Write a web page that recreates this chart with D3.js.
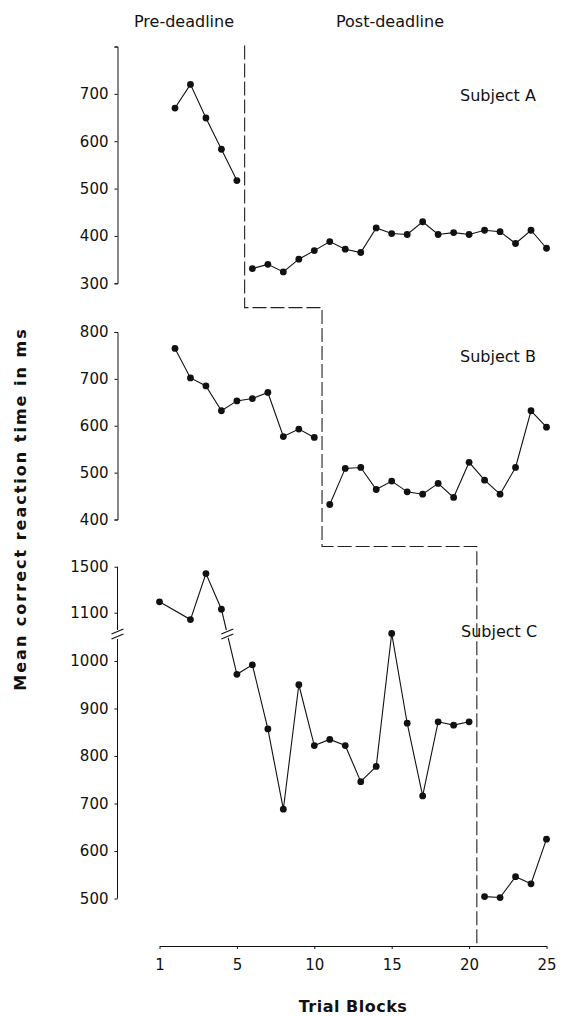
<!DOCTYPE html>
<html>
<head>
<meta charset="utf-8">
<script src="https://cdn.jsdelivr.net/npm/d3@7"></script>
<style>
	body { margin: 0; background: #fff; }
	svg { display: block; font-family: "DejaVu Sans", sans-serif; }
	.axis path, .axis line { stroke: #111; stroke-width: 1; fill: none; }
	.axis text { font-size: 15px; fill: #111; font-family: "DejaVu Sans", sans-serif; }
	.series { fill: none; stroke: #111; stroke-width: 1.1; }
	.dot { fill: #111; }
	.deadline { fill: none; stroke: #222; stroke-width: 1.1; stroke-dasharray: 14,4; }
	.label { font-size: 16px; fill: #111; }
	.title { font-size: 16px; font-weight: bold; fill: #111; }
</style>
</head>
<body>
<div id="chart"></div>
<script>
// trial blocks
var trialsAB = [1, 2, 3, 4, 5, 6, 7, 8, 9, 10, 11, 12, 13, 14, 15, 16, 17, 18, 19, 20, 21, 22, 23, 24, 25];
// subject C's first block sits at the axis origin in the original figure
var trialsC = [0, 2, 3, 4, 5, 6, 7, 8, 9, 10, 11, 12, 13, 14, 15, 16, 17, 18, 19, 20, 21, 22, 23, 24, 25];

var subjectA = [670, 720, 649, 583, 517, 331, 340, 324, 351, 369, 388, 372, 365, 417, 405, 403, 430, 403, 407, 403, 412, 409, 384, 412, 374];
var subjectB = [765, 702, 685, 632, 653, 658, 671, 577, 593, 575, 432, 509, 511, 464, 482, 459, 454, 477, 447, 522, 484, 454, 511, 632, 597];
var subjectC = [1195, 1040, 1440, 1130, 972, 992, 857, 688, 950, 822, 835, 822, 746, 778, 1058, 869, 716, 872, 865, 872, 504, 502, 546, 531, 625];
var cUpperCount = 4; // first points of C are drawn above the axis break

// deadline position (between blocks) for A, B, C
var deadlines = [5.5, 10.5, 20.5];

var xTicks = [0, 5, 10, 15, 20, 25];
var xTickLabels = ["1", "5", "10", "15", "20", "25"];
var aTicks = [300, 400, 500, 600, 700, 800];
var bTicks = [400, 500, 600, 700, 800];
var cUpperTicks = [1100, 1500];
var cLowerTicks = [500, 600, 700, 800, 900, 1000];

var width = 568, height = 1016,
	axisX = 117.5,
	axisY = 946,
	breakY = 634;

var svg = d3.select("#chart").append("svg")
	.attr("width", width)
	.attr("height", height);

var x = d3.scaleLinear().domain([0, 25]).range([159.5, 546.5]);
var yA = d3.scaleLinear().domain([300, 800]).range([283.3, 46.5]);
var yB = d3.scaleLinear().domain([400, 800]).range([519.5, 332]);
var yCu = d3.scaleLinear().domain([1100, 1500]).range([612.7, 566.7]);
var yCl = d3.scaleLinear().domain([500, 1000]).range([898.5, 661]);

var fmt = d3.format("d");

// y axes
svg.append("g").attr("class", "axis")
	.attr("transform", "translate(" + axisX + ",0)")
	.call(d3.axisLeft(yA).tickValues(aTicks).tickSize(3).tickPadding(6)
		.tickFormat(function(d) { return d === 800 ? "" : fmt(d); }));

svg.append("g").attr("class", "axis")
	.attr("transform", "translate(" + axisX + ",0)")
	.call(d3.axisLeft(yB).tickValues(bTicks).tickSize(3).tickPadding(6).tickFormat(fmt));

var cu = svg.append("g").attr("class", "axis")
	.attr("transform", "translate(" + axisX + ",0)")
	.call(d3.axisLeft(yCu).tickValues(cUpperTicks).tickSize(3).tickPadding(6).tickFormat(fmt));
cu.select(".domain").remove();
cu.append("line").attr("x1", 0).attr("x2", 0).attr("y1", yCu(1500)).attr("y2", breakY - 4);

var cl = svg.append("g").attr("class", "axis")
	.attr("transform", "translate(" + axisX + ",0)")
	.call(d3.axisLeft(yCl).tickValues(cLowerTicks).tickSize(3).tickPadding(6).tickFormat(fmt));
cl.select(".domain").remove();
cl.append("line").attr("x1", 0).attr("x2", 0).attr("y1", breakY + 5).attr("y2", yCl(500));

function breakMark(g, cx, cy) {
	[-2.5, 2.5].forEach(function(o) {
		g.append("line")
			.attr("x1", cx - 6).attr("y1", cy + o + 2.5)
			.attr("x2", cx + 6).attr("y2", cy + o - 2.5)
			.attr("stroke", "#111").attr("stroke-width", 1.1);
	});
}
breakMark(svg, axisX, breakY);

// x axis
svg.append("g").attr("class", "axis")
	.attr("transform", "translate(0," + axisY + ")")
	.call(d3.axisBottom(x).tickValues(xTicks).tickSize(3).tickSizeOuter(0).tickPadding(10)
		.tickFormat(function(d, i) { return xTickLabels[i]; }));

// deadline boundary
var yAB = (yA(300) + yB(800)) / 2,
	yBC = yB(400) + 27;
var dlPoints = [
	[x(deadlines[0]), yA(800) - 1], [x(deadlines[0]), yAB],
	[x(deadlines[1]), yAB], [x(deadlines[1]), yBC],
	[x(deadlines[2]), yBC], [x(deadlines[2]), axisY]
];
svg.append("path").attr("class", "deadline").attr("d", d3.line()(dlPoints));

// series, with the line broken at the subject's deadline
var line = d3.line().x(function(d) { return d.x; }).y(function(d) { return d.y; });

function drawSeries(trials, values, yFn, deadline) {
	var pts = values.map(function(v, i) { return { t: trials[i], x: x(trials[i]), y: yFn(v, i) }; });
	var pre = pts.filter(function(d) { return d.t < deadline; });
	var post = pts.filter(function(d) { return d.t > deadline; });
	[pre, post].forEach(function(seg) {
		svg.append("path").attr("class", "series").attr("d", line(seg));
	});
	svg.selectAll(null).data(pts).enter().append("circle")
		.attr("class", "dot")
		.attr("cx", function(d) { return d.x; })
		.attr("cy", function(d) { return d.y; })
		.attr("r", 3.4);
	return pts;
}

drawSeries(trialsAB, subjectA, function(v) { return yA(v); }, deadlines[0]);
drawSeries(trialsAB, subjectB, function(v) { return yB(v); }, deadlines[1]);
var cPts = drawSeries(trialsC, subjectC, function(v, i) { return i < cUpperCount ? yCu(v) : yCl(v); }, deadlines[2]);

// break on the C line between the two scales
var p0 = cPts[cUpperCount - 1], p1 = cPts[cUpperCount];
var t = (breakY - p0.y) / (p1.y - p0.y);
var bx = p0.x + t * (p1.x - p0.x);
svg.append("line")
	.attr("x1", p0.x + (t - 0.06) * (p1.x - p0.x)).attr("y1", breakY - 0.06 * (p1.y - p0.y))
	.attr("x2", p0.x + (t + 0.06) * (p1.x - p0.x)).attr("y2", breakY + 0.06 * (p1.y - p0.y))
	.attr("stroke", "#fff").attr("stroke-width", 3);
breakMark(svg, bx, breakY);

// labels
svg.append("text").attr("class", "label").attr("x", 184).attr("y", 27)
	.attr("text-anchor", "middle").text("Pre-deadline");
svg.append("text").attr("class", "label").attr("x", 390).attr("y", 27)
	.attr("text-anchor", "middle").text("Post-deadline");
svg.append("text").attr("class", "label").attr("x", 460).attr("y", 101).text("Subject A");
svg.append("text").attr("class", "label").attr("x", 460).attr("y", 362).text("Subject B");
svg.append("text").attr("class", "label").attr("x", 461).attr("y", 637).text("Subject C");

svg.append("text").attr("class", "title")
	.attr("x", (x(0) + x(25)) / 2).attr("y", 1012)
	.attr("text-anchor", "middle")
	.style("letter-spacing", "0.5px")
	.text("Trial Blocks");

svg.append("text").attr("class", "title")
	.attr("transform", "translate(26,509) rotate(-90)")
	.attr("text-anchor", "middle")
	.style("letter-spacing", "2px")
	.text("Mean correct reaction time in ms");
</script>
</body>
</html>
